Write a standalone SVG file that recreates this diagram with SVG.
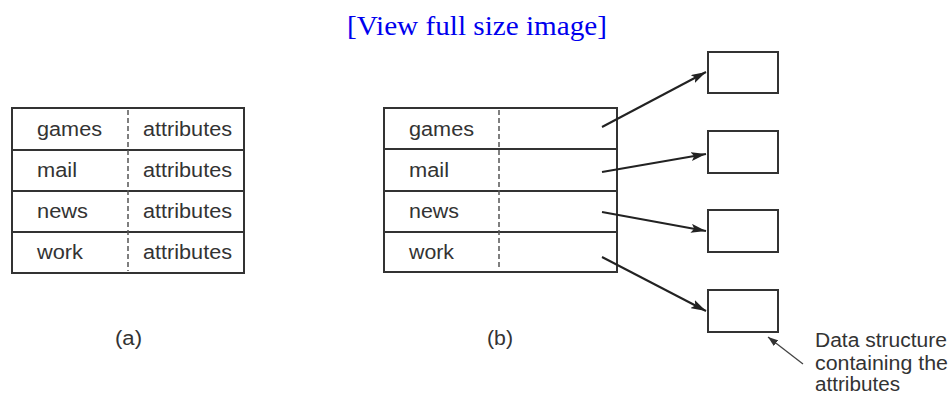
<svg xmlns="http://www.w3.org/2000/svg" width="952" height="396" viewBox="0 0 952 396">
<defs>
<marker id="ah" viewBox="0 0 15 9" refX="15" refY="4.5" markerWidth="15" markerHeight="9" markerUnits="userSpaceOnUse" orient="auto">
<path d="M0,0 L15,4.5 L0,9 L3,4.5 Z" fill="#222"/>
</marker>
<marker id="ahs" viewBox="0 0 10 7" refX="10" refY="3.5" markerWidth="10" markerHeight="7" markerUnits="userSpaceOnUse" orient="auto">
<path d="M0,0 L10,3.5 L0,7 Z" fill="#333"/>
</marker>
<style>
.t{font-family:"Liberation Sans",Arial,sans-serif;font-size:20px;fill:#333}
.box{fill:#fff;stroke:#333;stroke-width:2}
.div{stroke:#333;stroke-width:2}
.dash{stroke:#555;stroke-width:1.5;stroke-dasharray:5,3}
.arr{stroke:#222;stroke-width:2;fill:none;marker-end:url(#ah)}
.ann{stroke:#444;stroke-width:1.3;fill:none;marker-end:url(#ahs)}
</style>
</defs>
<rect width="952" height="396" fill="#fff"/>
<text x="347" y="35" font-family="'Liberation Serif','Times New Roman',serif" font-size="28" fill="#0000ee" textLength="260" lengthAdjust="spacingAndGlyphs">[View full size image]</text>

<g id="table-a">
<rect class="box" x="12" y="108" width="232" height="165"/>
<line class="div" x1="12" y1="150" x2="244" y2="150"/>
<line class="div" x1="12" y1="191" x2="244" y2="191"/>
<line class="div" x1="12" y1="232" x2="244" y2="232"/>
<line class="dash" x1="128" y1="110" x2="128" y2="271"/>
<text class="t" x="37" y="136" textLength="65" lengthAdjust="spacingAndGlyphs">games</text>
<text class="t" x="37" y="177" textLength="40" lengthAdjust="spacingAndGlyphs">mail</text>
<text class="t" x="37" y="218" textLength="51" lengthAdjust="spacingAndGlyphs">news</text>
<text class="t" x="37" y="259" textLength="46" lengthAdjust="spacingAndGlyphs">work</text>
<text class="t" x="143" y="136" textLength="89" lengthAdjust="spacingAndGlyphs">attributes</text>
<text class="t" x="143" y="177" textLength="89" lengthAdjust="spacingAndGlyphs">attributes</text>
<text class="t" x="143" y="218" textLength="89" lengthAdjust="spacingAndGlyphs">attributes</text>
<text class="t" x="143" y="259" textLength="89" lengthAdjust="spacingAndGlyphs">attributes</text>
</g>
<g id="label-a"><text class="t" x="115" y="345" textLength="27" lengthAdjust="spacingAndGlyphs">(a)</text></g>

<g id="table-b">
<rect class="box" x="384" y="108" width="233" height="164"/>
<line class="div" x1="384" y1="149" x2="617" y2="149"/>
<line class="div" x1="384" y1="191" x2="617" y2="191"/>
<line class="div" x1="384" y1="232" x2="617" y2="232"/>
<line class="dash" x1="499" y1="110" x2="499" y2="270"/>
<text class="t" x="409" y="136" textLength="65" lengthAdjust="spacingAndGlyphs">games</text>
<text class="t" x="409" y="177" textLength="40" lengthAdjust="spacingAndGlyphs">mail</text>
<text class="t" x="409" y="218" textLength="50" lengthAdjust="spacingAndGlyphs">news</text>
<text class="t" x="409" y="259" textLength="45" lengthAdjust="spacingAndGlyphs">work</text>
</g>
<g id="label-b"><text class="t" x="487" y="345" textLength="26" lengthAdjust="spacingAndGlyphs">(b)</text></g>

<g id="ds1"><rect class="box" x="708" y="52" width="70" height="41"/></g>
<g id="ds2"><rect class="box" x="708" y="131" width="70" height="42"/></g>
<g id="ds3"><rect class="box" x="708" y="210" width="70" height="42"/></g>
<g id="ds4"><rect class="box" x="708" y="290" width="70" height="42"/></g>

<g id="connectors">
<line class="arr" x1="602" y1="127" x2="706" y2="72"/>
<line class="arr" x1="602" y1="172" x2="706" y2="154"/>
<line class="arr" x1="602" y1="212" x2="706" y2="231"/>
<line class="arr" x1="602" y1="257" x2="706" y2="311"/>
<line class="ann" x1="803" y1="364" x2="768" y2="337"/>
</g>

<g id="annotation">
<text class="t" x="815" y="347" textLength="132" lengthAdjust="spacingAndGlyphs">Data structure</text>
<text class="t" x="815" y="370" textLength="133" lengthAdjust="spacingAndGlyphs">containing the</text>
<text class="t" x="815" y="391" textLength="85" lengthAdjust="spacingAndGlyphs">attributes</text>
</g>
</svg>
